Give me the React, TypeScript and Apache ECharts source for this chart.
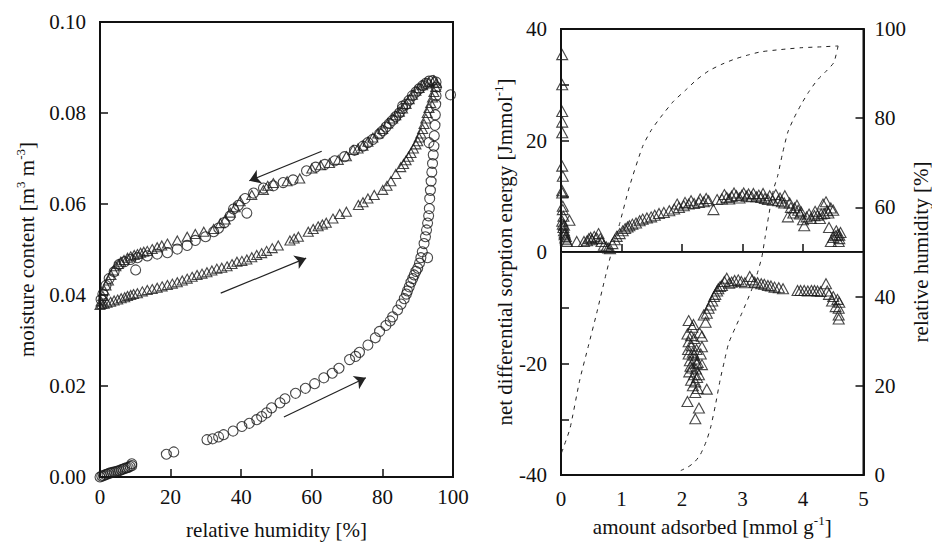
import React, { useEffect, useRef } from 'react';
import * as echarts from 'echarts';

const FONT = '"Liberation Serif", "DejaVu Serif", serif';
const INK = '#111';

// ---- Left panel: moisture content vs relative humidity ----
const leftXTicks = [0, 20, 40, 60, 80, 100];
const leftYTicks = [0, 0.02, 0.04, 0.06, 0.08, 0.1];

const circlesAdsorption: number[][] = [
  [0, 0], [0.5, 0.0002], [1, 0.0003], [1.5, 0.0005], [2, 0.0006], [2.5, 0.0008], [3, 0.0009], [3.5, 0.001],
  [4, 0.0011], [4.5, 0.0012], [5, 0.0013], [5.5, 0.0014], [6, 0.0016], [6.5, 0.0017], [7, 0.0019], [7.5, 0.002],
  [8, 0.0021], [8.5, 0.0023], [9, 0.0025], [9, 0.0029],
  [18.8, 0.005], [20.9, 0.0055],
  [30.3, 0.0082], [31.9, 0.0084], [33.6, 0.0088], [35.0, 0.0093], [37.7, 0.0101], [40.2, 0.0111], [42.3, 0.0118],
  [44.4, 0.0126], [45.8, 0.0133], [47.2, 0.0141], [48.6, 0.0152], [51.0, 0.0163], [52.4, 0.0172], [55.4, 0.0184],
  [58.2, 0.0195], [60.8, 0.0205], [63.4, 0.0218], [65.8, 0.0228], [67.7, 0.0239], [70.7, 0.0258], [72.4, 0.0265],
  [73.5, 0.0274], [75.9, 0.029], [78.0, 0.0306], [79.2, 0.032], [81.0, 0.0333], [82.2, 0.0343], [82.9, 0.0352],
  [84.3, 0.0367], [85.3, 0.038], [86.2, 0.0392], [86.8, 0.0402], [87.1, 0.0409], [87.6, 0.0418], [88.1, 0.0428],
  [88.6, 0.0436], [89.0, 0.0444], [89.5, 0.0452], [90.0, 0.0459], [90.5, 0.047], [90.9, 0.0482], [91.3, 0.0495],
  [91.8, 0.0513], [92.2, 0.0528], [92.5, 0.0543], [92.8, 0.0558], [93.1, 0.0574], [93.3, 0.059], [93.4, 0.0612],
  [93.6, 0.063], [93.8, 0.065], [94.0, 0.067], [94.2, 0.0689], [94.4, 0.0708], [94.6, 0.0727], [94.7, 0.075],
  [94.9, 0.0773], [95.0, 0.0796], [95.1, 0.0819], [95.2, 0.0838], [95.3, 0.0857], [95.2, 0.0868],
];

const circlesDesorption: number[][] = [
  [94.2, 0.0871], [93.2, 0.087], [92.3, 0.0865], [91.4, 0.086], [90.4, 0.0853], [89.5, 0.0846], [88.5, 0.0838],
  [87.6, 0.0828], [86.7, 0.0819], [85.7, 0.081], [84.8, 0.08], [83.8, 0.0792], [82.9, 0.0784], [82.0, 0.0777],
  [81.0, 0.0769], [80.1, 0.0761], [79.2, 0.0754], [77.3, 0.0742], [75.9, 0.0735], [74.5, 0.0727], [72.1, 0.0718],
  [69.3, 0.0704], [66.5, 0.0695], [63.7, 0.0687], [61.1, 0.0681], [58.5, 0.0673], [54.7, 0.0653], [51.9, 0.0647],
  [49.1, 0.064], [46.3, 0.0635], [43.5, 0.0624], [41.1, 0.0612], [39.2, 0.0597], [37.8, 0.0589], [36.9, 0.0574],
  [35.2, 0.0559], [33.6, 0.0547], [32.2, 0.0539], [29.9, 0.0528], [27.0, 0.052], [24.7, 0.0509], [21.9, 0.0501],
  [19.1, 0.0493], [16.2, 0.049], [13.4, 0.0486], [10.6, 0.0482], [8.7, 0.0478], [6.9, 0.0473], [5.4, 0.0467],
  [4.0, 0.0451], [2.6, 0.0436], [1.7, 0.0421], [0.8, 0.0402], [0.3, 0.039],
];

const circlesScattered: number[][] = [
  [99.3, 0.084], [93.2, 0.0735], [92.8, 0.0482], [85.7, 0.0815], [41.6, 0.058], [10.1, 0.0455],
];

const trianglesAdsorption: number[][] = [
  [0, 0.0378], [0.5, 0.038], [1.2, 0.0381], [2, 0.0383], [3, 0.0385], [4, 0.0388], [5, 0.039], [6, 0.0393],
  [7, 0.0395], [7.8, 0.0398], [8.7, 0.04], [9.5, 0.0402], [10.6, 0.0404], [12, 0.0408], [13.4, 0.0411],
  [14.8, 0.0413], [16.2, 0.0416], [17.6, 0.0419], [19.1, 0.0422], [20.5, 0.0425], [21.9, 0.0428], [23.3, 0.0432],
  [24.7, 0.0436], [26.1, 0.044], [27.5, 0.0444], [28.9, 0.0447], [30.3, 0.045], [31.7, 0.0454], [33.1, 0.0458],
  [34.5, 0.046], [36.0, 0.0463], [37.4, 0.0468], [38.8, 0.0473], [40.2, 0.0475], [41.6, 0.0478], [43.0, 0.0483],
  [44.4, 0.0488], [45.8, 0.0492], [47.2, 0.0497], [48.8, 0.0503], [50.5, 0.0509], [53.8, 0.052], [55.0, 0.0524],
  [56.2, 0.0528], [59.0, 0.0539], [60.4, 0.0545], [61.8, 0.0551], [63.0, 0.0555], [64.1, 0.0559], [66.0, 0.0568],
  [67.9, 0.0578], [69.8, 0.0583], [73.2, 0.0598], [74.5, 0.0604], [75.9, 0.0612], [77.7, 0.062], [80.1, 0.0631],
  [81.3, 0.064], [82.4, 0.065], [83.8, 0.0666], [85.2, 0.0681], [86.0, 0.0688], [86.7, 0.0696], [87.4, 0.0704],
  [88.1, 0.0712], [88.8, 0.0722], [89.5, 0.0731], [90.0, 0.0738], [90.4, 0.0746], [90.9, 0.0755], [91.4, 0.0765],
  [91.8, 0.0776], [92.3, 0.0788], [92.7, 0.08], [93.2, 0.0811], [93.7, 0.0822], [94.2, 0.0834], [94.6, 0.0846],
  [95.1, 0.0857], [95.3, 0.0866],
];

const trianglesDesorption: number[][] = [
  [94.6, 0.0872], [93.2, 0.0868], [92.3, 0.0865], [91.4, 0.0861], [90.4, 0.0855], [89.5, 0.0849], [88.5, 0.084],
  [87.6, 0.083], [86.7, 0.082], [85.7, 0.081], [84.8, 0.0803], [83.8, 0.0795], [82.9, 0.0788], [81.5, 0.0777],
  [80.1, 0.0765], [78.7, 0.0755], [77.3, 0.0746], [75.9, 0.0737], [74.5, 0.0728], [73.1, 0.0722], [71.7, 0.0719],
  [69.8, 0.0705], [67.5, 0.0697], [65.0, 0.069], [62.5, 0.0685], [60.0, 0.0678], [56.6, 0.0656], [53.0, 0.065],
  [49.1, 0.0646], [47.5, 0.064], [46.3, 0.0631], [43.0, 0.062], [39.7, 0.0606], [38.3, 0.0593], [36.9, 0.0581],
  [35.5, 0.0566], [34.1, 0.0558], [32.2, 0.0545], [29.4, 0.0539], [27.0, 0.0534], [24.7, 0.0528], [21.9, 0.052],
  [19.1, 0.0513], [17.5, 0.0509], [16.2, 0.0505], [14.8, 0.0501], [13.4, 0.0497], [12.4, 0.0495], [11.5, 0.0493],
  [10.6, 0.049], [9.7, 0.0488], [8.7, 0.0485], [7.8, 0.0482], [6.8, 0.0477], [5.9, 0.0473], [5.2, 0.0468],
  [4.5, 0.0463], [3.8, 0.0454], [3.1, 0.0444], [2.4, 0.0432], [1.7, 0.0421], [1.2, 0.041], [0.8, 0.0398],
  [0.3, 0.0386],
];

// arrows in data coordinates: [from, to]
const leftArrows: number[][][] = [
  [[62.8, 0.0716], [42.3, 0.0651]],
  [[34.2, 0.0404], [58.4, 0.0481]],
  [[52.1, 0.0132], [75.3, 0.0218]],
];

// ---- Right panel: net differential sorption energy / RH vs amount adsorbed ----
const rightXTicks = [0, 1, 2, 3, 4, 5];
const energyTicks = [-40, -20, 0, 20, 40];
const rhTicks = [0, 20, 40, 60, 80, 100];

const energyNearZero: number[][] = [
  [0.02, 35.4], [0.02, 30.0], [0.02, 25.2], [0.02, 23.3], [0.02, 21.4], [0.02, 15.4], [0.03, 13.6], [0.02, 11.0],
  [0.02, 10.6], [0.03, 8.2], [0.03, 7.6], [0.02, 5.5], [0.03, 5.0], [0.04, 4.4], [0.05, 3.8], [0.06, 3.1],
  [0.07, 2.5], [0.08, 2.2], [0.1, 1.9], [0.14, 5.7], [0.26, 1.9], [0.04, 6.4], [0.05, 4.8], [0.06, 3.4], [0.08, 2.8],
];

const energyUpper: number[][] = [
  [0.38, 1.9], [0.43, 2.0], [0.46, 2.4], [0.49, 2.6], [0.51, 2.2], [0.55, 2.8], [0.59, 2.5], [0.62, 3.3],
  [0.65, 2.4], [0.67, 1.9], [0.71, 1.2], [0.75, 0.9], [0.78, 0.7], [0.81, 0.6], [0.85, 1.5], [0.89, 2.2],
  [0.92, 2.8], [0.97, 3.3], [1.02, 3.8], [1.06, 4.2], [1.1, 4.5], [1.13, 4.7], [1.18, 5.0], [1.24, 5.2],
  [1.3, 5.6], [1.35, 5.9], [1.42, 6.1], [1.49, 6.3], [1.55, 6.6], [1.62, 6.9], [1.7, 7.1], [1.79, 7.4],
  [1.87, 7.7], [1.95, 8.0], [2.03, 8.3], [2.11, 8.6], [2.2, 8.7], [2.28, 8.9], [2.36, 9.0], [2.44, 9.2],
  [2.52, 7.6], [2.58, 9.4], [2.66, 9.5], [2.74, 9.8], [2.82, 10.0], [2.9, 10.1], [2.99, 10.2], [3.07, 10.0],
  [3.15, 9.9], [3.23, 9.9], [3.31, 9.8], [3.37, 9.6], [3.42, 9.4], [3.5, 9.3], [3.59, 9.2], [3.65, 9.0],
  [3.69, 8.8], [3.75, 6.3], [3.8, 8.0], [3.86, 7.9], [3.92, 7.5], [3.97, 7.2], [4.02, 4.7], [4.06, 6.3],
  [4.13, 6.0], [4.19, 6.5], [4.24, 6.6], [4.3, 6.8], [4.35, 6.9], [4.4, 7.4], [4.46, 7.9], [4.43, 4.4],
  [4.46, 1.9], [4.5, 2.6], [4.54, 2.9], [4.57, 3.1], [4.59, 1.9], [4.62, 3.5], [4.6, 2.4],
  [1.92, 8.6], [2.05, 8.9], [2.15, 9.2], [2.3, 9.5], [2.4, 9.6], [2.7, 10.3], [2.78, 9.5], [2.86, 10.6],
  [2.95, 9.7], [3.02, 10.6], [3.1, 10.4], [3.18, 10.5], [3.27, 10.2], [3.34, 10.5], [3.45, 10.1], [3.55, 10.3],
  [3.62, 9.7], [3.7, 10.1], [3.78, 8.8], [3.84, 7.0], [3.9, 8.4], [3.95, 6.8], [4.0, 5.8], [4.1, 6.8],
  [4.2, 7.3], [4.28, 6.0], [4.33, 8.6], [4.38, 9.0], [4.42, 7.0], [4.5, 7.5], [4.55, 3.8], [4.6, 3.0],
];

const energyLower: number[][] = [
  [2.11, -12.3], [2.09, -14.7], [2.11, -16.1], [2.1, -17.5], [2.11, -18.3], [2.13, -19.5], [2.14, -20.5],
  [2.16, -16.8], [2.17, -20.8], [2.17, -13.5], [2.18, -18.0], [2.2, -22.0], [2.2, -15.5], [2.21, -19.2],
  [2.22, -23.3], [2.22, -25.2], [2.23, -21.0], [2.24, -17.5], [2.25, -22.5], [2.26, -19.8], [2.28, -22.0],
  [2.28, -28.0], [2.29, -14.5], [2.31, -18.3], [2.33, -15.1], [2.33, -20.2], [2.33, -17.0], [2.09, -26.8],
  [2.22, -29.9], [2.41, -24.6], [2.36, -11.3], [2.39, -12.6], [2.41, -11.0], [2.44, -10.1], [2.47, -9.5],
  [2.5, -8.8], [2.53, -8.0], [2.55, -7.6], [2.58, -7.0], [2.6, -6.6], [2.63, -6.2], [2.66, -6.0], [2.7, -5.3],
  [2.74, -4.7], [2.78, -5.6], [2.82, -5.4], [2.87, -5.1], [2.93, -5.0], [2.98, -5.3], [3.04, -5.5], [3.12, -4.4],
  [3.16, -5.0], [3.2, -5.4], [3.25, -5.5], [3.31, -5.7], [3.36, -5.8], [3.42, -6.0], [3.47, -6.1], [3.53, -6.3],
  [3.6, -6.4], [3.67, -6.6], [3.91, -6.9], [3.96, -6.9], [4.02, -6.9], [4.08, -7.0], [4.14, -6.9], [4.19, -6.9],
  [4.24, -7.0], [4.29, -7.1], [4.38, -5.7], [4.4, -7.0], [4.43, -7.6], [4.48, -8.8], [4.5, -8.0], [4.54, -9.8],
  [4.57, -8.5], [4.59, -10.1], [4.59, -11.3], [4.59, -12.0], [4.6, -9.0],
  [2.12, -21.5], [2.15, -23.0], [2.18, -24.0], [2.2, -18.5], [2.24, -20.0], [2.26, -24.5], [2.19, -13.0], [2.15, -15.0],
];

const rhAdsorption: number[][] = [
  [0.01, 5.0], [0.05, 6.5], [0.15, 10.5], [0.31, 21.3], [0.45, 28.8], [0.59, 36.3], [0.72, 43.7], [0.83, 49.7],
  [0.97, 56.4], [1.13, 64.6], [1.35, 73.7], [1.5, 77.5], [1.68, 80.8], [1.86, 83.8], [2.06, 86.3], [2.24, 88.6],
  [2.44, 90.6], [2.66, 92.1], [2.88, 93.3], [3.1, 94.2], [3.31, 94.9], [3.64, 95.4], [3.97, 95.8], [4.3, 96.0],
  [4.58, 96.2],
];

const rhDesorption: number[][] = [
  [4.58, 96.2], [4.51, 92.5], [4.38, 90.5], [4.24, 88.6], [4.1, 86.0], [3.97, 83.1], [3.85, 80.0], [3.75, 76.9],
  [3.66, 72.0], [3.58, 67.0], [3.51, 63.9], [3.43, 57.9], [3.37, 53.0], [3.32, 48.9], [3.24, 45.0], [3.15, 41.5],
  [2.99, 36.3], [2.88, 33.0], [2.77, 29.5], [2.7, 25.5], [2.63, 21.3], [2.55, 15.5], [2.47, 10.5], [2.4, 7.5],
  [2.3, 4.5], [2.2, 2.8], [2.1, 1.8], [1.98, 1.0],
];

const richName = {
  n: { fontFamily: FONT, fontSize: 21, color: INK, lineHeight: 26 },
  s: { fontFamily: FONT, fontSize: 13, color: INK, lineHeight: 13, verticalAlign: 'top' },
};

const baseAxis = (fmt?: (v: number) => string, margin = 12) => ({
  axisLine: { show: true, lineStyle: { color: INK, width: 2 } },
  axisTick: { show: true, inside: true, length: 8, lineStyle: { color: INK, width: 1.5 } },
  splitLine: { show: false },
  axisLabel: {
    color: INK,
    fontFamily: FONT,
    fontSize: 21,
    margin,
    formatter: fmt,
  },
  nameTextStyle: { fontFamily: FONT, fontSize: 21, color: INK, rich: richName },
});

const pointStyle = { color: 'rgba(0,0,0,0)', borderColor: '#1a1a1a', borderWidth: 1.1 };

function scatter(data: number[][], xi: number, yi: number, symbol: string, size: number | number[], extra: any = {}) {
  return {
    type: 'scatter',
    xAxisIndex: xi,
    yAxisIndex: yi,
    data,
    symbol,
    symbolSize: size,
    itemStyle: pointStyle,
    clip: false,
    silent: true,
    ...extra,
  };
}

export default function App() {
  const ref = useRef<HTMLDivElement>(null);

  useEffect(() => {
    if (!ref.current) return;
    const chart = echarts.init(ref.current, null, { renderer: 'svg' });

    const option: any = {
      animation: false,
      backgroundColor: '#ffffff',
      textStyle: { fontFamily: FONT, color: INK },
      grid: [
        { left: 100, top: 22, width: 353, height: 455, show: true, borderColor: INK, borderWidth: 2, backgroundColor: 'transparent' },
        { left: 561, top: 29, width: 305, height: 446, show: true, borderColor: INK, borderWidth: 2, backgroundColor: 'transparent' },
      ],
      xAxis: [
        {
          ...baseAxis((v: number) => (leftXTicks.includes(v) ? String(v) : ''), 9),
          type: 'value', gridIndex: 0, min: leftXTicks[0], max: leftXTicks[leftXTicks.length - 1], interval: 20,
          name: '{n|relative humidity [%]}', nameLocation: 'middle', nameGap: 40,
        },
        {
          ...baseAxis((v: number) => (rightXTicks.includes(v) ? String(v) : ''), 13),
          type: 'value', gridIndex: 1, min: rightXTicks[0], max: rightXTicks[rightXTicks.length - 1], interval: 1,
          name: '{n|amount adsorbed [mmol g}{s|-1}{n|]}', nameLocation: 'middle', nameGap: 36,
        },
      ],
      yAxis: [
        {
          ...baseAxis((v: number) => v.toFixed(2), 14),
          type: 'value', gridIndex: 0, min: leftYTicks[0], max: leftYTicks[leftYTicks.length - 1], interval: 0.02,
          name: '{n|moisture content [m}{s|3}{n| m}{s|-3}{n|]}', nameLocation: 'middle', nameGap: 60, nameRotate: 90,
        },
        {
          ...baseAxis((v: number) => (energyTicks.includes(v) ? String(v) : ''), 14),
          type: 'value', gridIndex: 1, position: 'left', min: -40, max: 40, interval: 10,
          name: '{n|net differential sorption energy [Jmmol}{s|-1}{n|]}', nameLocation: 'middle', nameGap: 39, nameRotate: 90,
        },
        {
          ...baseAxis((v: number) => (rhTicks.includes(v) ? String(v) : ''), 11),
          type: 'value', gridIndex: 1, position: 'right', min: 0, max: 100, interval: 20,
          name: '{n|relative humidity [%]}', nameLocation: 'middle', nameGap: 44, nameRotate: 90,
        },
      ],
      series: [
        scatter(circlesAdsorption, 0, 0, 'circle', 10, {
          markLine: {
            silent: true,
            symbol: ['none', 'arrow'],
            symbolSize: 11,
            label: { show: false },
            lineStyle: { color: '#222', width: 1.2, type: 'solid' },
            emphasis: { disabled: true },
            data: leftArrows.map(([a, b]) => [{ coord: a }, { coord: b }]),
          },
        }),
        scatter(circlesDesorption, 0, 0, 'circle', 10),
        scatter(circlesScattered, 0, 0, 'circle', 10),
        scatter(trianglesAdsorption, 0, 0, 'triangle', [10, 9]),
        scatter(trianglesDesorption, 0, 0, 'triangle', [10, 9]),
        scatter(energyNearZero, 1, 1, 'triangle', [11, 10], {
          markLine: {
            silent: true,
            symbol: ['none', 'none'],
            label: { show: false },
            lineStyle: { color: '#222', width: 1, type: 'solid' },
            emphasis: { disabled: true },
            data: [{ yAxis: 0 }],
          },
        }),
        scatter(energyUpper, 1, 1, 'triangle', [11, 10]),
        scatter(energyLower, 1, 1, 'triangle', [11, 10]),
        {
          type: 'line', xAxisIndex: 1, yAxisIndex: 2, data: rhAdsorption, showSymbol: false, smooth: 0.2, silent: true,
          lineStyle: { color: '#222', width: 1, type: [4, 5] },
        },
        {
          type: 'line', xAxisIndex: 1, yAxisIndex: 2, data: rhDesorption, showSymbol: false, smooth: 0.2, silent: true,
          lineStyle: { color: '#222', width: 1, type: [4, 5] },
        },
      ],
    };

    chart.setOption(option);
    return () => chart.dispose();
  }, []);

  return (
    <div
      ref={ref}
      style={{ position: 'absolute', left: 0, top: 0, width: 932, height: 547, background: '#fff' }}
    />
  );
}
